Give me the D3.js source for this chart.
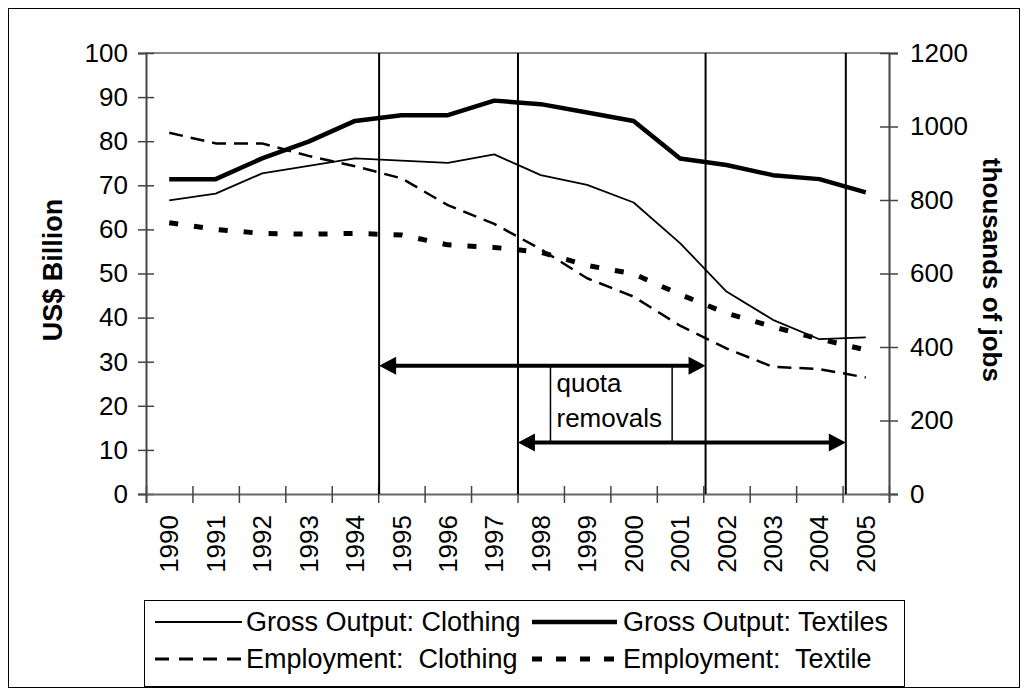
<!DOCTYPE html>
<html><head><meta charset="utf-8">
<script src="https://cdn.jsdelivr.net/npm/d3@7"></script>
<style>
body{margin:0;background:#fff}
text{font-family:"Liberation Sans",Arial,Helvetica,sans-serif;fill:#000}
</style>
</head><body>
<svg id="c" width="1028" height="696"></svg>
<script>
// ---- data ----
const years = [1990,1991,1992,1993,1994,1995,1996,1997,1998,1999,2000,2001,2002,2003,2004,2005];
const grossClothing = [66.6,68.1,72.7,74.4,76.1,75.6,75.1,77.0,72.3,70.1,66.1,56.9,45.9,39.5,35.1,35.5];
const grossTextiles = [71.4,71.4,76.1,79.9,84.6,85.9,85.9,89.2,88.4,86.5,84.6,76.1,74.6,72.3,71.4,68.4];
const empClothing = [983,954,954,920,892,859,786,735,666,587,537,458,396,346,340,317];
const empTextile  = [738,720,709,707,709,705,678,671,658,622,599,543,492,455,422,392];
const leftTicks = [0,10,20,30,40,50,60,70,80,90,100];
const rightTicks = [0,200,400,600,800,1000,1200];
const quotaLines = [1994.52,1997.51,2001.55,2004.57];
const quotaArrows = [{from:1994.52,to:2001.55,value:29.1},{from:1997.51,to:2004.57,value:11.7}];
const quotaBox = {x0:1998.21,x1:2000.83,top:29.1,bottom:11.7,lines:["quota","removals"]};
const seriesNames = ["Gross Output: Clothing","Gross Output: Textiles","Employment:  Clothing","Employment:  Textile"];

// ---- layout ----
const svg = d3.select("#c");
const L=146,R=889,T=53,B=494, FS=26, FS_LEG=27, FS_TITLE=27;
const x = d3.scaleBand().domain(years).range([L,R]).padding(0);
const xLin = d3.scaleLinear().domain([1989.5,2005.5]).range([L,R]);
const yL = d3.scaleLinear().domain([0,100]).range([B,T]);
const yR = d3.scaleLinear().domain([0,1200]).range([B,T]);
const cx = y => x(y)+x.bandwidth()/2;

svg.append("rect").attr("x",8.5).attr("y",8.5).attr("width",1011).attr("height",679)
  .attr("fill","#fff").attr("stroke","#000").attr("stroke-width",1);

// top plot border
svg.append("line").attr("x1",L).attr("x2",R).attr("y1",T).attr("y2",T)
  .attr("stroke","#888").attr("stroke-width",2);

// left axis
const gl = svg.append("g").attr("transform",`translate(${L},0)`)
  .call(d3.axisLeft(yL).tickValues(leftTicks).tickSize(8).tickPadding(10).tickFormat(d3.format("d")));
gl.selectAll(".tick line").attr("x1",8).attr("stroke","#444").attr("stroke-width",1.5);
gl.select(".domain").attr("stroke","#444").attr("stroke-width",2);
gl.selectAll("text").attr("font-size",FS).attr("font-family",null);

// right axis
const gr = svg.append("g").attr("transform",`translate(${R},0)`)
  .call(d3.axisRight(yR).tickValues(rightTicks).tickSize(9).tickPadding(12).tickFormat(d3.format("d")));
gr.selectAll(".tick line").attr("x1",-9).attr("stroke","#444").attr("stroke-width",1.5);
gr.select(".domain").attr("stroke","#444").attr("stroke-width",2);
gr.selectAll("text").attr("font-size",FS).attr("font-family",null);

// bottom axis: boundary ticks
const bounds = d3.range(years.length+1).map(i=>1989.5+i);
const gb = svg.append("g").attr("transform",`translate(0,${B})`)
  .call(d3.axisBottom(xLin).tickValues(bounds).tickSize(9).tickFormat(""));
gb.selectAll(".tick line").attr("y1",-8).attr("stroke","#444").attr("stroke-width",1.5);
gb.select(".domain").attr("stroke","#666").attr("stroke-width",2);
// labels
const gb2 = svg.append("g").attr("transform",`translate(0,${B})`)
  .call(d3.axisBottom(x).tickSize(0).tickFormat(d=>String(d)));
gb2.select(".domain").remove();
gb2.selectAll("text").attr("font-size",FS).attr("font-family",null)
  .attr("transform","rotate(-90)").attr("text-anchor","end")
  .attr("x",-21).attr("y",0).attr("dy","0.35em");

// axis titles
svg.append("text").attr("transform",`translate(53,270) rotate(-90)`).attr("text-anchor","middle")
  .attr("dy","0.35em").attr("font-size",FS_TITLE).attr("font-weight","bold").text("US$ Billion");
svg.append("text").attr("transform",`translate(992,270) rotate(90)`).attr("text-anchor","middle")
  .attr("dy","0.35em").attr("font-size",FS_TITLE-1).attr("font-weight","bold").text("thousands of jobs");

// quota vertical lines
svg.append("g").selectAll("line").data(quotaLines).join("line")
  .attr("x1",d=>xLin(d)).attr("x2",d=>xLin(d)).attr("y1",yL(100)).attr("y2",yL(0))
  .attr("stroke","#000").attr("stroke-width",2);

// series
const styles = [
  {data:grossClothing, y:yL, w:1.8, dash:null},
  {data:grossTextiles, y:yL, w:4.5, dash:null},
  {data:empClothing, y:yR, w:2.5, dash:"14,8"},
  {data:empTextile, y:yR, w:5, dash:"9,16"}
];
styles.forEach(s=>{
  const line = d3.line().x((d,i)=>cx(years[i])).y(d=>s.y(d));
  svg.append("path").attr("d",line(s.data)).attr("fill","none").attr("stroke","#000")
    .attr("stroke-width",s.w).attr("stroke-dasharray",s.dash).attr("stroke-linejoin","round");
});

// quota box
svg.append("rect").attr("x",xLin(quotaBox.x0)).attr("y",yL(quotaBox.top))
  .attr("width",xLin(quotaBox.x1)-xLin(quotaBox.x0)).attr("height",yL(quotaBox.bottom)-yL(quotaBox.top))
  .attr("fill","#fff").attr("stroke","#000").attr("stroke-width",1.5);
svg.append("g").selectAll("text").data(quotaBox.lines).join("text")
  .attr("x",xLin(quotaBox.x0)+6).attr("y",(d,i)=>yL(quotaBox.top)+26+i*35)
  .attr("font-size",FS).text(d=>d);

// arrows
const AL=17, AH=9;
quotaArrows.forEach(a=>{
  const x0=xLin(a.from), x1=xLin(a.to), yy=yL(a.value);
  svg.append("line").attr("x1",x0+AL-1).attr("x2",x1-AL+1).attr("y1",yy).attr("y2",yy)
    .attr("stroke","#000").attr("stroke-width",4);
  svg.append("path").attr("d",`M${x0},${yy}L${x0+AL},${yy-AH}L${x0+AL},${yy+AH}Z`).attr("fill","#000");
  svg.append("path").attr("d",`M${x1},${yy}L${x1-AL},${yy-AH}L${x1-AL},${yy+AH}Z`).attr("fill","#000");
});

// legend
const lg = svg.append("g");
lg.append("rect").attr("x",144.5).attr("y",600.5).attr("width",760).attr("height",86)
  .attr("fill","#fff").attr("stroke","#000").attr("stroke-width",1);
const legPos = [{x1:155,x2:242,tx:246,y:622},{x1:532,x2:617,tx:623,y:622},
                {x1:155,x2:242,tx:246,y:659},{x1:532,x2:617,tx:623,y:659}];
const legDash = ["none","none","14,10","10,14"];
const legW = [1.8,4.5,3,5];
seriesNames.forEach((n,i)=>{
  const p = legPos[i];
  lg.append("line").attr("x1",p.x1).attr("x2",p.x2).attr("y1",p.y).attr("y2",p.y)
    .attr("stroke","#000").attr("stroke-width",legW[i]).attr("stroke-dasharray",legDash[i]==="none"?null:legDash[i]);
  lg.append("text").attr("x",p.tx).attr("y",p.y).attr("dy","0.35em").attr("font-size",FS_LEG)
    .style("white-space","pre").text(n);
});
</script>
</body></html>
